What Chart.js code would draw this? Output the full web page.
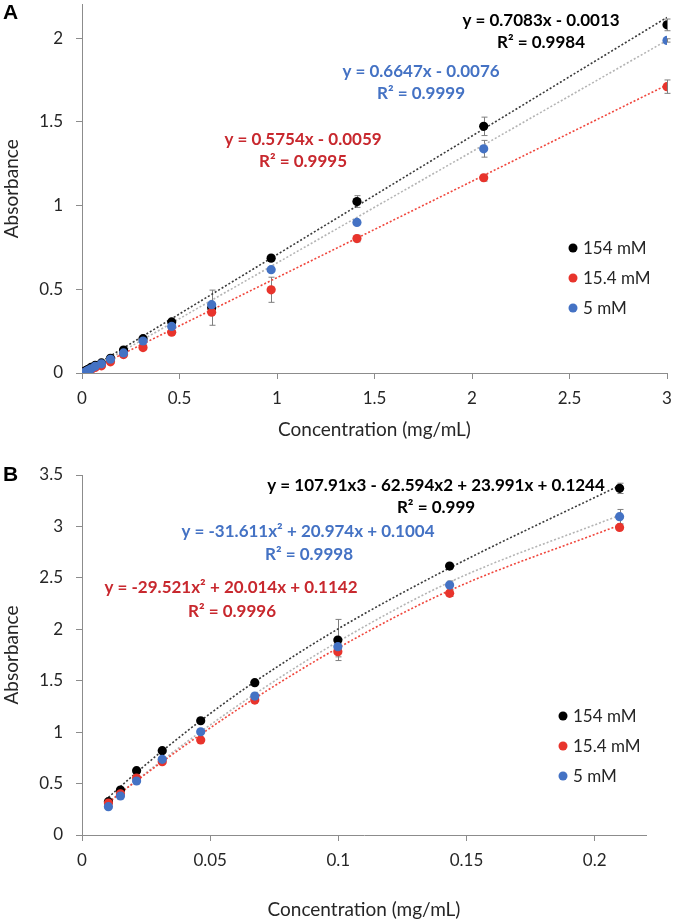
<!DOCTYPE html>
<html>
<head>
<meta charset="utf-8">
<script src="https://cdn.jsdelivr.net/npm/chart.js@4.4.1/dist/chart.umd.min.js"></script>
<style>
  body { margin: 0; background: #fff; width: 675px; height: 922px; position: relative; overflow: hidden; }
  canvas { position: absolute; left: 0; }
  #chartA { top: 0; }
  #chartB { top: 450px; }
  .tag { position: absolute; left: 3px; z-index: 2; font: bold 21px "Liberation Sans", Arial, sans-serif; color: #000; }
</style>
</head>
<body>
<div class="tag" style="top:0px">A</div>
<div class="tag" style="top:462px">B</div>
<canvas id="chartA" width="675" height="450"></canvas>
<canvas id="chartB" width="675" height="472"></canvas>
<script>
// series
var seriesLabels = ['154 mM', '15.4 mM', '5 mM'];
var markerColors = ['#000000', '#e8342c', '#4472c4'];
var trendColors = ['#3a3a3a', '#f0463c', '#b4b4b4'];
var eqColors = ['#000000', '#c8282e', '#4472c4'];

// panel A - linear range
var concA = [0.015, 0.0213, 0.0313, 0.0463, 0.0674, 0.0998, 0.146, 0.213, 0.313, 0.46, 0.665, 0.97, 1.41, 2.06, 3.0];
var absA154 = [0.01, 0.016, 0.022, 0.033, 0.045, 0.06, 0.088, 0.137, 0.205, 0.305, 0.39, 0.686, 1.024, 1.473, 2.079];
var absA15 = [0.003, 0.007, 0.012, 0.02, 0.033, 0.043, 0.067, 0.11, 0.152, 0.244, 0.363, 0.497, 0.803, 1.166, 1.71];
var absA5 = [0.004, 0.009, 0.016, 0.025, 0.04, 0.055, 0.082, 0.12, 0.191, 0.278, 0.408, 0.617, 0.899, 1.339, 1.986];
var errA154 = [0, 0, 0, 0, 0, 0, 0, 0, 0, 0, 0.105, 0, 0.035, 0.055, 0.035];
var errA15 = [0, 0, 0, 0, 0, 0, 0, 0, 0, 0, 0, 0.075, 0.02, 0.02, 0.04];
var errA5 = [0, 0, 0, 0, 0, 0, 0, 0, 0, 0, 0, 0, 0, 0.05, 0.01];
var fitA154 = [0.7083, -0.0013];
var fitA15 = [0.5754, -0.0059];
var fitA5 = [0.6647, -0.0076];
var xTicksA = [0, 0.5, 1, 1.5, 2, 2.5, 3];
var yTicksA = [0, 0.5, 1, 1.5, 2];

// panel B - low range
var concB = [0.0103, 0.015, 0.0213, 0.0313, 0.0463, 0.0674, 0.0998, 0.1434, 0.2097];
var absB154 = [0.324, 0.437, 0.625, 0.82, 1.111, 1.481, 1.896, 2.615, 3.37];
var absB15 = [0.31, 0.4, 0.554, 0.713, 0.924, 1.312, 1.782, 2.35, 2.99];
var absB5 = [0.275, 0.379, 0.525, 0.736, 1.004, 1.351, 1.831, 2.43, 3.095];
var errB154 = [0, 0, 0, 0, 0, 0, 0.2, 0.02, 0.05];
var errB15 = [0, 0, 0, 0, 0, 0, 0.05, 0.03, 0];
var errB5 = [0, 0, 0, 0, 0, 0, 0.03, 0.04, 0.07];
var fitB154 = [107.91, -62.594, 23.991, 0.1244];
var fitB15 = [-29.521, 20.014, 0.1142];
var fitB5 = [-31.611, 20.974, 0.1004];
var xTicksB = [0, 0.05, 0.1, 0.15, 0.2];
var yTicksB = [0, 0.5, 1, 1.5, 2, 2.5, 3, 3.5];

var eqA = ['y = 0.7083x - 0.0013', 'R² = 0.9984', 'y = 0.5754x - 0.0059', 'R² = 0.9995', 'y = 0.6647x - 0.0076', 'R² = 0.9999'];
var eqB = ['y = 107.91x3 - 62.594x2 + 23.991x + 0.1244', 'R² = 0.999', 'y = -29.521x² + 20.014x + 0.1142', 'R² = 0.9996', 'y = -31.611x² + 20.974x + 0.1004', 'R² = 0.9998'];

var FONT = 'Lato';
var AXIS = '#8c8c8c';
var TEXT = '#262626';

function polyval(c, x) {
  return c.reduce(function (acc, k) { return acc * x + k; }, 0);
}

function buildDatasets(conc, ys, errs, fits) {
  var out = [];
  ys.forEach(function (y, i) {
    out.push({
      label: seriesLabels[i],
      data: conc.map(function (x, k) { return { x: x, y: y[k] }; }),
      errs: errs[i],
      backgroundColor: markerColors[i],
      borderColor: markerColors[i],
      borderWidth: 0,
      pointRadius: 4.6,
      order: 2 - i
    });
  });
  fits.forEach(function (f, i) {
    out.push({
      label: 'trend ' + seriesLabels[i],
      data: conc.map(function (x) { return { x: x, y: polyval(f, x) }; }),
      showLine: true,
      borderColor: trendColors[i],
      borderWidth: 1.6,
      borderDash: [2, 2],
      pointRadius: 0,
      cubicInterpolationMode: 'monotone',
      order: 10 + i
    });
  });
  return out;
}

var extras = {
  id: 'extras',
  beforeDatasetsDraw: function (chart) {
    var ctx = chart.ctx, xs = chart.scales.x, ysc = chart.scales.y;
    ctx.save();
    ctx.strokeStyle = '#7f7f7f';
    ctx.lineWidth = 1;
    chart.data.datasets.forEach(function (ds) {
      if (!ds.errs) return;
      ds.data.forEach(function (p, k) {
        var e = ds.errs[k];
        if (!e) return;
        var px = Math.round(xs.getPixelForValue(p.x)) + 0.5;
        var top = ysc.getPixelForValue(p.y + e), bot = ysc.getPixelForValue(p.y - e);
        ctx.beginPath();
        ctx.moveTo(px, top); ctx.lineTo(px, bot);
        ctx.moveTo(px - 3, top); ctx.lineTo(px + 3, top);
        ctx.moveTo(px - 3, bot); ctx.lineTo(px + 3, bot);
        ctx.stroke();
      });
    });
    ctx.restore();
  },
  afterDraw: function (chart, args, o) {
    var ctx = chart.ctx;
    ctx.save();
    ctx.textBaseline = 'middle';
    ctx.textAlign = 'center';
    ctx.font = 'bold 17px ' + FONT;
    o.notes.forEach(function (n) {
      ctx.fillStyle = eqColors[n.c];
      ctx.fillText(n.text, n.x, n.y);
    });
    ctx.textAlign = 'left';
    ctx.font = '17px ' + FONT;
    seriesLabels.forEach(function (lab, i) {
      var y = o.legend.y + i * o.legend.gap;
      ctx.fillStyle = markerColors[i];
      ctx.beginPath();
      ctx.arc(o.legend.x, y, 4.5, 0, Math.PI * 2);
      ctx.fill();
      ctx.fillStyle = TEXT;
      ctx.fillText(lab, o.legend.x + 10, y + 1);
    });
    ctx.restore();
  }
};

function axis(min, max, ticks, title, opts) {
  return {
    type: 'linear',
    min: min,
    max: max,
    afterBuildTicks: function (s) { s.ticks = ticks.map(function (v) { return { value: v }; }); },
    afterFit: opts.fit,
    grid: { display: true, drawOnChartArea: false, drawTicks: true, tickLength: 6, color: AXIS },
    border: { display: true, color: AXIS, width: 1 },
    ticks: {
      color: TEXT, font: { family: FONT, size: 17 }, padding: opts.pad,
      maxRotation: 0, autoSkip: false,
      callback: function (v) { return String(v); }
    },
    title: { display: true, text: title, color: TEXT, font: { family: FONT, size: 19 }, padding: opts.titlePad }
  };
}

function makeChart(id, cfg) {
  return new Chart(document.getElementById(id), {
    type: 'scatter',
    data: { datasets: cfg.datasets },
    options: {
      responsive: false,
      animation: false,
      events: [],
      layout: { padding: cfg.padding },
      plugins: { legend: { display: false }, tooltip: { enabled: false }, extras: cfg.extras },
      scales: {
        x: axis(0, cfg.xMax, cfg.xTicks, 'Concentration (mg/mL)', {
          fit: function (s) { s.height = cfg.xH; s.paddingRight = 0; s.paddingLeft = 0; },
          pad: 9, titlePad: { top: 0, bottom: cfg.titleB }
        }),
        y: axis(0, cfg.yMax, cfg.yTicks, 'Absorbance', {
          fit: function (s) { s.width = 82; s.paddingTop = 0; s.paddingBottom = 0; },
          pad: 13, titlePad: { top: 0, bottom: 0 }
        })
      }
    },
    plugins: [extras]
  });
}

makeChart('chartA', {
  datasets: buildDatasets(concA, [absA154, absA15, absA5], [errA154, errA15, errA5], [fitA154, fitA15, fitA5]),
  padding: { top: 2, left: 0, right: 8, bottom: 0 },
  xMax: 3, yMax: 2.2, xTicks: xTicksA, yTicks: yTicksA, xH: 77, titleB: 9,
  extras: {
    notes: [
      { text: eqA[0], x: 541, y: 21, c: 0 }, { text: eqA[1], x: 541, y: 43, c: 0 },
      { text: eqA[4], x: 421, y: 72, c: 2 }, { text: eqA[5], x: 421, y: 94, c: 2 },
      { text: eqA[2], x: 303, y: 140, c: 1 }, { text: eqA[3], x: 303, y: 162, c: 1 }
    ],
    legend: { x: 573, y: 248, gap: 30 }
  }
});

makeChart('chartB', {
  datasets: buildDatasets(concB, [absB154, absB15, absB5], [errB154, errB15, errB5], [fitB154, fitB15, fitB5]),
  padding: { top: 25, left: 0, right: 29, bottom: 0 },
  xMax: 0.22, yMax: 3.5, xTicks: xTicksB, yTicks: yTicksB, xH: 87, titleB: 1,
  extras: {
    notes: [
      { text: eqB[0], x: 436, y: 36, c: 0 }, { text: eqB[1], x: 436, y: 58, c: 0 },
      { text: eqB[4], x: 308, y: 82, c: 2 }, { text: eqB[5], x: 309, y: 105, c: 2 },
      { text: eqB[2], x: 231, y: 138, c: 1 }, { text: eqB[3], x: 232, y: 162, c: 1 }
    ],
    legend: { x: 563, y: 266, gap: 30 }
  }
});
</script>
</body>
</html>
